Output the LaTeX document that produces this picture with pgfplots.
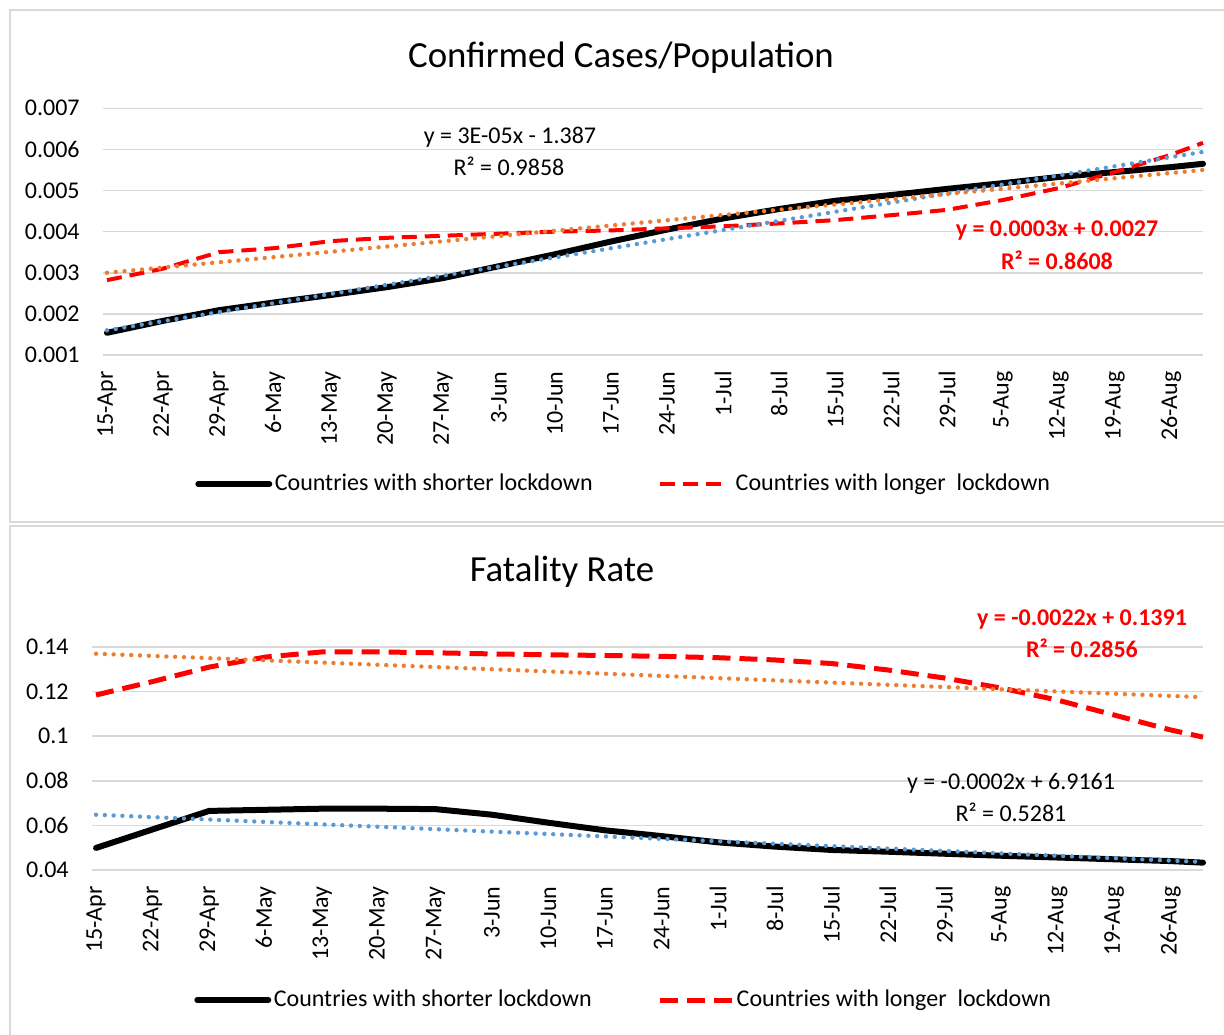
\documentclass[border=0pt]{standalone}
\usepackage{pgfplots}
\pgfplotsset{compat=1.18}
\usepackage{fontspec}
\setmainfont{Carlito}
\definecolor{gridgray}{HTML}{D9D9D9}
\definecolor{framegray}{HTML}{D9D9D9}
\definecolor{trendblue}{HTML}{5B9BD5}
\definecolor{trendorange}{HTML}{ED7D31}
\newcommand{\lblfont}{\fontsize{12}{14.4}\selectfont}
\newcommand{\ttlfont}{\fontsize{18.4}{22}\selectfont}
\pgfplotsset{
  excelaxis/.style={
    scale only axis,
    scaled y ticks=false,
    axis line style={draw=none},
    major tick length=0pt,
    ymajorgrids,
    grid style={draw=gridgray, line width=0.75pt},
    xmin=-0.5, xmax=137,
    xtick={0,7,14,21,28,35,42,49,56,63,70,77,84,91,98,105,112,119,126,133},
    xticklabels={15-Apr,22-Apr,29-Apr,6-May,13-May,20-May,27-May,3-Jun,10-Jun,17-Jun,24-Jun,1-Jul,8-Jul,15-Jul,22-Jul,29-Jul,5-Aug,12-Aug,19-Aug,26-Aug},
    xticklabel style={rotate=90, anchor=east, inner sep=0pt, font=\lblfont},
    yticklabel style={anchor=east, inner sep=0pt, font=\lblfont},
    xticklabel shift=8pt,
    yticklabel shift=11.5pt,
    clip=false,
    legend columns=2,
    legend cell align=left,
    legend image code/.code={\draw[##1] (0pt,0pt) -- (35.5pt,0pt);},
    legend style={draw=none, fill=none, anchor=center, font=\lblfont,
      nodes={inner xsep=1.25pt, inner ysep=2pt},
      /tikz/every even column/.append style={column sep=31.5pt}},
  },
  shortline/.style={black, line width=3pt, line cap=round, line join=round},
  longline/.style={red, line width=2pt, dash pattern=on 7.5pt off 4pt, line join=round},
  trend/.style={line width=2.2pt, dash pattern=on 0pt off 4.4pt, line cap=round, forget plot},
  redlegA/.style={legend image code/.code={\draw[##1, dash pattern=on 7.5pt off 4pt] (0pt,0pt) -- (31pt,0pt); \path (35.5pt,0pt);}},
  redlegB/.style={legend image code/.code={\draw[##1] (0pt,0pt) -- (36pt,0pt);}},
}
\begin{document}
\begin{tikzpicture}
\useasboundingbox (0,0) rectangle (612pt,517pt);
\draw[framegray, line width=0.75pt] (5pt,256pt) rectangle (620pt,512pt);
\draw[framegray, line width=0.75pt] (5pt,-5pt) rectangle (620pt,254pt);

\node[font=\ttlfont] at (310.5pt,488pt) {Confirmed Cases/Population};
\node[font=\ttlfont] at (281pt,231pt) {Fatality Rate};

\begin{axis}[excelaxis, at={(51.5pt,339.5pt)}, anchor=south west,
  width=550pt, height=123.35pt,
  ymin=0.001, ymax=0.007,
  ytick={0.001,0.002,0.003,0.004,0.005,0.006,0.007},
  yticklabels={0.001,0.002,0.003,0.004,0.005,0.006,0.007},
  legend style={at={(0.4736,-0.523)}}]
\addplot[shortline] coordinates {(0,0.00154)(7,0.00183)(14,0.00209)(21,0.00228)(28,0.00246)(35,0.00265)(42,0.00287)(49,0.00316)(56,0.00345)(63,0.00376)(70,0.00405)(77,0.00432)(84,0.00455)(91,0.00475)(98,0.00489)(105,0.00504)(112,0.00518)(119,0.00533)(126,0.00545)(133,0.00557)(137,0.00565)};
\addlegendentry{Countries with shorter lockdown}
\addplot[longline, redlegA] coordinates {(0,0.00282)(7,0.0031)(14,0.0035)(21,0.0036)(28,0.00377)(35,0.00385)(42,0.0039)(49,0.00395)(56,0.004)(63,0.00403)(70,0.00408)(77,0.00413)(84,0.0042)(91,0.00428)(98,0.0044)(105,0.00453)(112,0.00477)(119,0.00506)(126,0.00545)(133,0.00587)(137,0.00616)};
\addlegendentry{Countries with longer\ \ lockdown}
\addplot[trend, trendblue] coordinates {(0,0.0016)(137,0.00594)};
\addplot[trend, trendorange] coordinates {(0,0.0030)(137,0.0055)};
\end{axis}

\begin{axis}[excelaxis, at={(46pt,82pt)}, anchor=south west,
  width=555.5pt, height=111.5pt,
  ymin=0.04, ymax=0.14,
  ytick={0.04,0.06,0.08,0.1,0.12,0.14},
  yticklabels={0.04,0.06,0.08,0.1,0.12,0.14},
  legend style={at={(0.4788,-0.583)}}]
\addplot[shortline] coordinates {(0,0.0499)(7,0.0582)(14,0.0665)(21,0.067)(28,0.0675)(35,0.0675)(42,0.0673)(49,0.0648)(56,0.0612)(63,0.0578)(70,0.0552)(77,0.0524)(84,0.0505)(91,0.049)(98,0.0482)(105,0.0473)(112,0.0464)(119,0.0456)(126,0.0448)(133,0.044)(137,0.0433)};
\addlegendentry{Countries with shorter lockdown}
\addplot[longline, line width=2.5pt, dash pattern=on 9pt off 4.5pt, redlegB] coordinates {(0,0.1185)(7,0.1245)(14,0.131)(21,0.1355)(28,0.1378)(35,0.1378)(42,0.1374)(49,0.1369)(56,0.1365)(63,0.1362)(70,0.1358)(77,0.1352)(84,0.1342)(91,0.1326)(98,0.1297)(105,0.1261)(112,0.1216)(119,0.1162)(126,0.1095)(133,0.1028)(137,0.0996)};
\addlegendentry{Countries with longer\ \ lockdown}
\addplot[trend, trendblue] coordinates {(0,0.0648)(137,0.0436)};
\addplot[trend, trendorange] coordinates {(0,0.137)(137,0.1175)};
\end{axis}

\node[font=\lblfont] at (255pt,448.5pt) {y = 3E-05x - 1.387};
\node[font=\lblfont] at (254.5pt,434pt) {R² = 0.9858};
\node[font=\lblfont\bfseries, text=red] at (528.5pt,401.5pt) {y = 0.0003x + 0.0027};
\node[font=\lblfont\bfseries, text=red] at (528.5pt,387pt) {R² = 0.8608};
\node[font=\lblfont\bfseries, text=red] at (541pt,207pt) {y = -0.0022x + 0.1391};
\node[font=\lblfont\bfseries, text=red] at (541pt,193pt) {R² = 0.2856};
\node[font=\lblfont] at (505.5pt,125.5pt) {y = -0.0002x + 6.9161};
\node[font=\lblfont] at (505.5pt,111pt) {R² = 0.5281};
\end{tikzpicture}
\end{document}
